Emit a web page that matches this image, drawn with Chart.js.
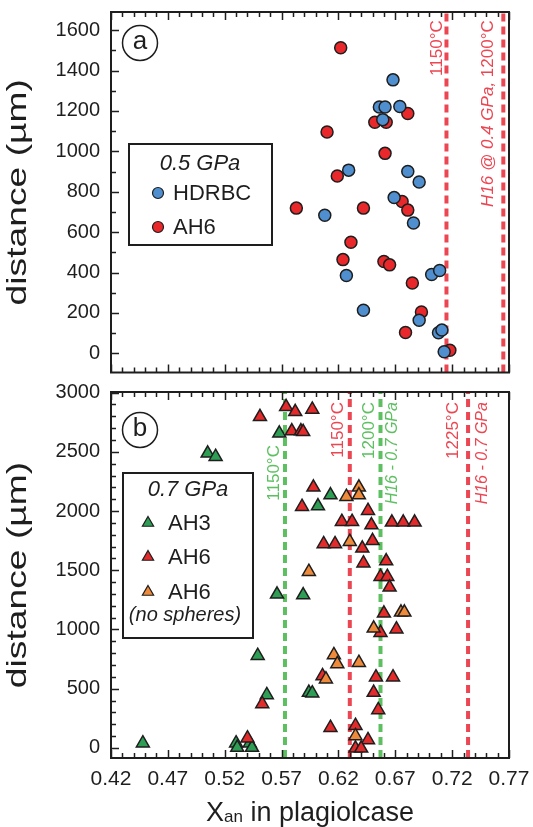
<!DOCTYPE html>
<html>
<head>
<meta charset="utf-8">
<script src="https://cdn.jsdelivr.net/npm/chart.js@4.4.1/dist/chart.umd.min.js"></script>
<style>
  body { margin: 0; background: #fff; }
  #wrap { position: relative; width: 533px; height: 827px; }
  canvas { position: absolute; left: 0; }
  #chartA { top: 0; }
  #chartB { top: 380px; }
</style>
</head>
<body>
<div id="wrap">
  <canvas id="chartA" width="533" height="380"></canvas>
  <canvas id="chartB" width="533" height="447"></canvas>
</div>
<script>
// tick labels
const xTicks = [0.42, 0.47, 0.52, 0.57, 0.62, 0.67, 0.72, 0.77];
const yTicksA = [0, 200, 400, 600, 800, 1000, 1200, 1400, 1600];
const yTicksB = [0, 500, 1000, 1500, 2000, 2500, 3000];

// (a) 0.5 GPa - HDRBC
const hdrbcX = [0.668, 0.656, 0.661, 0.674, 0.659, 0.629, 0.681, 0.691, 0.669, 0.608, 0.686, 0.627, 0.702, 0.709, 0.642, 0.691, 0.708, 0.711, 0.713];
const hdrbcY = [1354, 1220, 1220, 1222, 1157, 907, 900, 848, 771, 684, 645, 385, 390, 410, 213, 164, 102, 115, 8];
// (a) 0.5 GPa - AH6
const ah6aX = [0.622, 0.681, 0.652, 0.662, 0.610, 0.661, 0.619, 0.676, 0.681, 0.583, 0.642, 0.631, 0.624, 0.660, 0.665, 0.685, 0.693, 0.679, 0.718];
const ah6aY = [1513, 1187, 1144, 1144, 1096, 990, 878, 752, 709, 719, 719, 550, 464, 455, 438, 348, 205, 103, 15];

// (b) 0.7 GPa - AH3
const ah3X = [0.568, 0.505, 0.512, 0.613, 0.602, 0.566, 0.589, 0.549, 0.557, 0.594, 0.597, 0.448, 0.530, 0.542, 0.531, 0.544];
const ah3Y = [2656, 2487, 2459, 2135, 2042, 1297, 1291, 779, 447, 467, 462, 40, 40, 40, 3, 3];
// (b) 0.7 GPa - AH6
const ah6bX = [0.551, 0.574, 0.582, 0.597, 0.579, 0.587, 0.589, 0.598, 0.588, 0.646, 0.623, 0.632, 0.649, 0.667, 0.677, 0.687,
               0.607, 0.617, 0.641, 0.650, 0.642, 0.662, 0.657, 0.663, 0.665, 0.660, 0.657, 0.671, 0.606, 0.653, 0.668,
               0.553, 0.651, 0.655, 0.613, 0.635, 0.646, 0.635, 0.640, 0.540];
const ah6bY = [2796, 2880, 2838, 2858, 2675, 2675, 2669, 2200, 2037, 2003, 1910, 1910, 1882, 1905, 1905, 1905,
               1722, 1722, 1685, 1749, 1560, 1578, 1446, 1446, 1356, 1137, 973, 1002, 608, 597, 597,
               371, 467, 321, 171, 188, 68, -3, -3, 82];
// (b) 0.7 GPa - AH6 (no spheres)
const ah6nsX = [0.627, 0.638, 0.638, 0.630, 0.594, 0.675, 0.678, 0.651, 0.616, 0.619, 0.638, 0.609, 0.635];
const ah6nsY = [2121, 2200, 2135, 1741, 1488, 1145, 1145, 1010, 785, 709, 720, 580, 101];

// dashed reference lines (Xan)
const refA = [0.715, 0.765];
const refBGreen = [0.573, 0.657];
const refBRed = [0.630, 0.734];

const FONT = "'Liberation Sans', Arial, Helvetica, sans-serif";
const RED_LINE = 'rgb(236, 70, 82)';
const GREEN_LINE = 'rgb(92, 192, 96)';
const INK = '#1e1e1e';

function pts(xs, ys) {
    return xs.map((x, i) => ({ x: x, y: ys[i] }));
}

function vline(x, lo, hi, color) {
    return {
        data: [{ x: x, y: lo }, { x: x, y: hi }],
        showLine: true,
        borderColor: color,
        borderWidth: 4,
        borderDash: [8, 5],
        pointRadius: 0,
        pointHoverRadius: 0,
        order: 10
    };
}

function marks(label, xs, ys, color, style, r, order) {
    return {
        label: label,
        data: pts(xs, ys),
        pointStyle: style,
        pointRadius: r,
        pointHoverRadius: r,
        backgroundColor: color,
        borderColor: INK,
        borderWidth: 1.5,
        order: order
    };
}

// inward ticks + box frame
const frameTicks = {
    id: 'frameTicks',
    afterDatasetsDraw(chart, args, o) {
        const { ctx, chartArea: a, scales: { x, y } } = chart;
        ctx.save();
        ctx.strokeStyle = INK;
        ctx.lineWidth = 1.5;
        ctx.beginPath();
        for (let i = 0; i <= 35; i++) {
            const px = Math.round(x.getPixelForValue(0.42 + i * 0.01)) + 0.5;
            const len = i % 5 === 0 ? 8 : 5;
            ctx.moveTo(px, a.bottom); ctx.lineTo(px, a.bottom - len);
            ctx.moveTo(px, a.top); ctx.lineTo(px, a.top + len);
        }
        for (let v = 0; v <= y.max; v += o.minor) {
            const py = Math.round(y.getPixelForValue(v)) + 0.5;
            const len = v % o.major === 0 ? 8 : 5;
            ctx.moveTo(a.left, py); ctx.lineTo(a.left + len, py);
        }
        ctx.stroke();
        ctx.lineWidth = 2;
        ctx.strokeRect(a.left, a.top, a.right - a.left, a.bottom - a.top);
        ctx.restore();
    }
};

// rotated text next to the dashed lines
const lineLabels = {
    id: 'lineLabels',
    beforeDatasetsDraw(chart, args, o) {
        const { ctx, scales: { x, y } } = chart;
        o.items.forEach(it => {
            const px = x.getPixelForValue(it.x), py = y.getPixelForValue(it.y);
            ctx.save();
            ctx.translate(px, py);
            ctx.rotate(-Math.PI / 2);
            ctx.fillStyle = it.color;
            ctx.textBaseline = 'middle';
            ctx.textAlign = 'left';
            let total = 0;
            it.parts.forEach(p => {
                ctx.font = (p.it ? 'italic ' : '') + it.size + 'px ' + FONT;
                total += ctx.measureText(p.t).width;
            });
            let cx = -total;
            it.parts.forEach(p => {
                ctx.font = (p.it ? 'italic ' : '') + it.size + 'px ' + FONT;
                ctx.fillText(p.t, cx, 0);
                cx += ctx.measureText(p.t).width;
            });
            ctx.restore();
        });
    }
};

// in-plot legend box and the panel letter
const boxLegend = {
    id: 'boxLegend',
    afterDraw(chart, args, o) {
        const { ctx, chartArea: a } = chart;
        ctx.save();
        // panel letter
        ctx.strokeStyle = INK;
        ctx.lineWidth = 1.5;
        ctx.beginPath();
        ctx.arc(a.left + o.letter.dx, a.top + o.letter.dy, 17.5, 0, Math.PI * 2);
        ctx.stroke();
        ctx.fillStyle = INK;
        ctx.font = '26px ' + FONT;
        ctx.textAlign = 'center';
        ctx.textBaseline = 'middle';
        ctx.fillText(o.letter.t, a.left + o.letter.dx, a.top + o.letter.dy - 1);

        // box
        const b = o.box;
        ctx.fillStyle = '#fff';
        ctx.fillRect(a.left + b.dx, a.top + b.dy, b.w, b.h);
        ctx.lineWidth = 2;
        ctx.strokeRect(a.left + b.dx, a.top + b.dy, b.w, b.h);
        ctx.fillStyle = INK;
        ctx.font = 'italic 22px ' + FONT;
        ctx.fillText(o.title.t, a.left + o.title.dx, a.top + o.title.dy);

        o.entries.forEach(e => {
            const mx = a.left + o.markerDx, my = a.top + e.dy;
            ctx.fillStyle = e.color;
            ctx.strokeStyle = INK;
            ctx.lineWidth = 1.2;
            ctx.beginPath();
            if (e.style === 'circle') {
                ctx.arc(mx, my, 5.5, 0, Math.PI * 2);
            } else {
                const r = 6.5;
                ctx.moveTo(mx, my - r);
                ctx.lineTo(mx + r * 0.866, my + r * 0.5);
                ctx.lineTo(mx - r * 0.866, my + r * 0.5);
                ctx.closePath();
            }
            ctx.fill();
            ctx.stroke();
            ctx.fillStyle = INK;
            ctx.font = '22px ' + FONT;
            ctx.textAlign = 'left';
            ctx.fillText(e.t, a.left + o.textDx, my + 1);
        });
        if (o.note) {
            ctx.font = 'italic 20px ' + FONT;
            ctx.textAlign = 'center';
            ctx.fillText(o.note.t, a.left + o.note.dx, a.top + o.note.dy);
        }
        ctx.restore();
    }
};

// axis titles: tall, narrow y title and the x title with subscript
const axisTitles = {
    id: 'axisTitles',
    afterDraw(chart, args, o) {
        const { ctx, chartArea: a } = chart;
        ctx.save();
        ctx.fillStyle = INK;
        ctx.translate(18, (a.top + a.bottom) / 2);
        ctx.rotate(-Math.PI / 2);
        ctx.scale(1.33, 1);
        ctx.font = '28px ' + FONT;
        ctx.textAlign = 'center';
        ctx.textBaseline = 'middle';
        ctx.fillText('distance (µm)', 0, 0);
        ctx.restore();

        if (!o.showX) return;
        const big = '27px ' + FONT, small = '17px ' + FONT;
        ctx.save();
        ctx.fillStyle = INK;
        ctx.textBaseline = 'alphabetic';
        ctx.textAlign = 'left';
        ctx.font = big; const w1 = ctx.measureText('X').width;
        ctx.font = small; const w2 = ctx.measureText('an').width;
        ctx.font = big; const w3 = ctx.measureText(' in plagiolcase').width;
        let cx = (a.left + a.right) / 2 - (w1 + w2 + w3) / 2;
        const base = chart.height - 6;
        ctx.font = big; ctx.fillText('X', cx, base); cx += w1;
        ctx.font = small; ctx.fillText('an', cx, base + 1); cx += w2;
        ctx.font = big; ctx.fillText(' in plagiolcase', cx, base);
        ctx.restore();
    }
};

function baseOptions(yMin, yMax, yTicks, showX, pad) {
    const xScale = {
        type: 'linear',
        min: 0.42,
        max: 0.77,
        display: showX,
        afterBuildTicks: s => { s.ticks = xTicks.map(v => ({ value: v })); },
        grid: { display: false, drawTicks: false },
        border: { display: false },
        ticks: {
            autoSkip: false, maxRotation: 0, padding: 9,
            font: { family: FONT, size: 21 }, color: INK,
            callback: v => v.toFixed(2)
        }
    };
    if (showX) xScale.afterFit = s => { s.height = 69; s.paddingLeft = 0; s.paddingRight = 0; };
    return {
        responsive: false,
        animation: false,
        layout: { padding: pad },
        plugins: { legend: { display: false }, tooltip: { enabled: false } },
        scales: {
            x: xScale,
            y: {
                min: yMin,
                max: yMax,
                afterBuildTicks: s => { s.ticks = yTicks.map(v => ({ value: v })); },
                afterFit: s => { s.width = 111; s.paddingTop = 0; s.paddingBottom = 0; },
                grid: { display: false, drawTicks: false },
                border: { display: false },
                ticks: {
                    autoSkip: false, padding: 11, font: { family: FONT, size: 20 }, color: INK,
                    callback: v => String(v)
                },
                title: { display: false }
            }
        }
    };
}

// panel (a)
const yMinA = -95, yMaxA = 1690;
const optsA = baseOptions(yMinA, yMaxA, yTicksA, false, { left: 0, top: 12, right: 24, bottom: 6 });
optsA.plugins.frameTicks = { minor: 100, major: 200 };
optsA.plugins.lineLabels = {
    items: [
        { x: 0.7067, y: 1649, size: 17, color: RED_LINE, parts: [{ t: '1150°C' }] },
        { x: 0.7516, y: 1649, size: 17, color: RED_LINE, parts: [{ t: 'H16 @ 0.4 GPa, ', it: true }, { t: '1200°C' }] }
    ]
};
optsA.plugins.boxLegend = {
    letter: { t: 'a', dx: 29, dy: 31 },
    box: { dx: 18, dy: 132, w: 143, h: 101 },
    title: { t: '0.5 GPa', dx: 89, dy: 152 },
    markerDx: 47, textDx: 62,
    entries: [
        { t: 'HDRBC', color: '#4f8fd0', style: 'circle', dy: 181 },
        { t: 'AH6', color: '#e8282a', style: 'circle', dy: 215 }
    ]
};
optsA.plugins.axisTitles = { showX: false };

const chartA = new Chart(document.getElementById('chartA'), {
    type: 'scatter',
    data: {
        datasets: [
            vline(refA[0], yMinA, yMaxA, RED_LINE),
            vline(refA[1], yMinA, yMaxA, RED_LINE),
            marks('AH6', ah6aX, ah6aY, '#e8282a', 'circle', 6, 2),
            marks('HDRBC', hdrbcX, hdrbcY, '#4f8fd0', 'circle', 6, 1)
        ]
    },
    options: optsA,
    plugins: [lineLabels, frameTicks, boxLegend, axisTitles]
});

// panel (b)
const yMinB = -85, yMaxB = 3005;
const optsB = baseOptions(yMinB, yMaxB, yTicksB, true, { left: 0, top: 12, right: 24, bottom: 0 });
optsB.plugins.frameTicks = { minor: 100, major: 500 };
optsB.plugins.lineLabels = {
    items: [
        { x: 0.5634, y: 2557, size: 17, color: GREEN_LINE, parts: [{ t: '1150°C' }] },
        { x: 0.6197, y: 2920, size: 17, color: RED_LINE, parts: [{ t: '1150°C' }] },
        { x: 0.6469, y: 2920, size: 17, color: GREEN_LINE, parts: [{ t: '1200°C' }] },
        { x: 0.6680, y: 2920, size: 16, color: GREEN_LINE, parts: [{ t: 'H16 - 0.7 GPa', it: true }] },
        { x: 0.7208, y: 2920, size: 17, color: RED_LINE, parts: [{ t: '1225°C' }] },
        { x: 0.7463, y: 2920, size: 16, color: RED_LINE, parts: [{ t: 'H16 - 0.7 GPa', it: true }] }
    ]
};
optsB.plugins.boxLegend = {
    letter: { t: 'b', dx: 29, dy: 38 },
    box: { dx: 12, dy: 81, w: 130, h: 165 },
    title: { t: '0.7 GPa', dx: 77, dy: 98 },
    markerDx: 37, textDx: 57,
    entries: [
        { t: 'AH3', color: '#2e9e55', style: 'triangle', dy: 131 },
        { t: 'AH6', color: '#e32b2b', style: 'triangle', dy: 165 },
        { t: 'AH6', color: '#ee8a3a', style: 'triangle', dy: 200 }
    ],
    note: { t: '(no spheres)', dx: 74, dy: 223 }
};
optsB.plugins.axisTitles = { showX: true };

const chartB = new Chart(document.getElementById('chartB'), {
    type: 'scatter',
    data: {
        datasets: [
            vline(refBGreen[0], yMinB, yMaxB, GREEN_LINE),
            vline(refBGreen[1], yMinB, yMaxB, GREEN_LINE),
            vline(refBRed[0], yMinB, yMaxB, RED_LINE),
            vline(refBRed[1], yMinB, yMaxB, RED_LINE),
            marks('AH3', ah3X, ah3Y, '#2e9e55', 'triangle', 7.5, 3),
            marks('AH6', ah6bX, ah6bY, '#e32b2b', 'triangle', 7.5, 2),
            marks('AH6 (no spheres)', ah6nsX, ah6nsY, '#ee8a3a', 'triangle', 7.5, 1)
        ]
    },
    options: optsB,
    plugins: [lineLabels, frameTicks, boxLegend, axisTitles]
});
</script>
</body>
</html>
